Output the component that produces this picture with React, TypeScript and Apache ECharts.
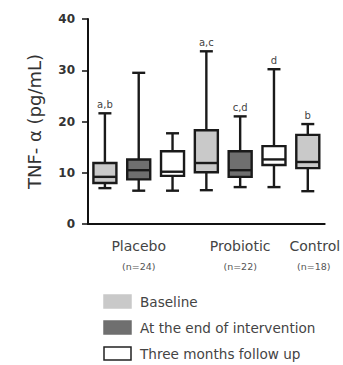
import React, { useEffect, useRef } from "react";
import * as echarts from "echarts";

// x slots: three visits per arm, control measured once
const slots = ["P-base", "P-end", "P-fu", "Pr-base", "Pr-end", "Pr-fu", "C-base"];
// which fill each box uses: 0 baseline, 1 end of intervention, 2 follow up
const phase = [0, 1, 2, 0, 1, 2, 0];
// box statistics: [min, Q1, median, Q3, max]
const boxStats = [
  [7.0, 8.0, 9.2, 11.9, 21.6],
  [6.5, 8.7, 10.5, 12.6, 29.5],
  [6.5, 9.4, 10.2, 14.2, 17.7],
  [6.6, 10.1, 11.9, 18.3, 33.7],
  [7.2, 9.2, 10.5, 14.2, 21.0],
  [7.2, 11.5, 12.6, 15.2, 30.2],
  [6.4, 10.9, 12.1, 17.4, 19.5],
];
// significance letters above the whiskers
const letters = ["a,b", "", "", "a,c", "c,d", "d", "b"];
// group labels placed under the middle slot of each group
const groupLabels = ["", "Placebo", "", "", "Probiotic", "", "Control"];
const groupN = ["", "(n=24)", "", "", "(n=22)", "", "(n=18)"];
const legendNames = ["Baseline", "At the end of intervention", "Three months follow up"];
const phaseFill = ["#c9c9c9", "#6f6f6f", "#ffffff"];
const yTicks = { min: 0, max: 40, interval: 10 };

const FONT = "'DejaVu Sans', 'Liberation Sans', sans-serif";

export default function App() {
  const ref = useRef<HTMLDivElement>(null);

  useEffect(() => {
    if (!ref.current) return;
    const chart = echarts.init(ref.current, null, { renderer: "svg" });

    const data = boxStats.map((s, i) => [i, ...s, phase[i]]);

    const legendGraphic: any[] = [];
    legendNames.forEach((name, i) => {
      const y = 295 + i * 26;
      legendGraphic.push({
        type: "rect",
        shape: { x: 104, y, width: 27, height: 13 },
        style: { fill: phaseFill[i], stroke: i === 2 ? "#222" : phaseFill[i], lineWidth: 1.5 },
      });
      legendGraphic.push({
        type: "text",
        x: 140,
        y: y + 7,
        style: {
          text: name,
          fill: "#444",
          font: `13.6px ${FONT}`,
          verticalAlign: "middle",
        },
      });
    });

    chart.setOption({
      animation: false,
      grid: { left: 88, right: 17, top: 19, bottom: 141 },
      xAxis: {
        type: "category",
        data: slots,
        boundaryGap: true,
        axisLine: { lineStyle: { color: "#111", width: 2 } },
        axisTick: { alignWithLabel: true, length: 5, lineStyle: { color: "#111", width: 1.5 } },
        axisLabel: {
          interval: 0,
          margin: 10,
          formatter: (_v: string, idx: number) => {
            if (!groupLabels[idx]) return "";
            const shift = idx === 6 ? "c" : "";
            return `{m${shift}|${groupLabels[idx]}}\n{n${shift}|${groupN[idx]}}`;
          },
          rich: {
            m: { fontSize: 14, color: "#444", fontFamily: FONT, lineHeight: 24 },
            n: { fontSize: 9.5, color: "#555", fontFamily: FONT, lineHeight: 16 },
            mc: { fontSize: 14, color: "#444", fontFamily: FONT, lineHeight: 24, padding: [0, 0, 0, 14] },
            nc: { fontSize: 9.5, color: "#555", fontFamily: FONT, lineHeight: 16, padding: [0, 0, 0, 12] },
          },
        },
      },
      yAxis: {
        type: "value",
        min: yTicks.min,
        max: yTicks.max,
        interval: yTicks.interval,
        name: "TNF- α (pg/mL)",
        nameLocation: "middle",
        nameGap: 45,
        nameTextStyle: { fontSize: 18, color: "#333", fontFamily: FONT },
        axisLine: { show: true, lineStyle: { color: "#111", width: 2 } },
        axisTick: { show: true, length: 6, lineStyle: { color: "#111", width: 1.5 } },
        axisLabel: { fontSize: 12, fontWeight: "bold", color: "#333", fontFamily: FONT, margin: 13 },
        splitLine: { show: false },
      },
      series: [
        {
          type: "custom",
          data,
          encode: { x: 0, y: [1, 2, 3, 4, 5] },
          renderItem: (params: any, api: any) => {
            const idx = api.value(0);
            const x = api.coord([idx, 0])[0];
            const yMin = api.coord([idx, api.value(1)])[1];
            const yQ1 = api.coord([idx, api.value(2)])[1];
            const yMed = api.coord([idx, api.value(3)])[1];
            const yQ3 = api.coord([idx, api.value(4)])[1];
            const yMax = api.coord([idx, api.value(5)])[1];
            const p = api.value(6);
            const half = 11.5;
            const cap = 6.5;
            const lw = 2.4;
            const stroke = "#1a1a1a";
            const children: any[] = [
              { type: "line", shape: { x1: x, y1: yMax, x2: x, y2: yQ3 }, style: { stroke, lineWidth: lw } },
              { type: "line", shape: { x1: x, y1: yQ1, x2: x, y2: yMin }, style: { stroke, lineWidth: lw } },
              { type: "line", shape: { x1: x - cap, y1: yMax, x2: x + cap, y2: yMax }, style: { stroke, lineWidth: lw } },
              { type: "line", shape: { x1: x - cap, y1: yMin, x2: x + cap, y2: yMin }, style: { stroke, lineWidth: lw } },
              {
                type: "rect",
                shape: { x: x - half, y: yQ3, width: half * 2, height: yQ1 - yQ3 },
                style: { fill: phaseFill[p], stroke, lineWidth: lw },
              },
              { type: "line", shape: { x1: x - half, y1: yMed, x2: x + half, y2: yMed }, style: { stroke, lineWidth: lw } },
            ];
            const letter = letters[params.dataIndex];
            if (letter) {
              children.push({
                type: "text",
                x,
                y: yMax - 4,
                style: {
                  text: letter,
                  fill: "#444",
                  font: `10px ${FONT}`,
                  align: "center",
                  verticalAlign: "bottom",
                },
              });
            }
            return { type: "group", children };
          },
        },
      ],
      graphic: legendGraphic,
    });

    return () => chart.dispose();
  }, []);

  return (
    <div
      ref={ref}
      style={{ position: "fixed", left: 0, top: 0, width: 343, height: 365, background: "#fff" }}
    />
  );
}
